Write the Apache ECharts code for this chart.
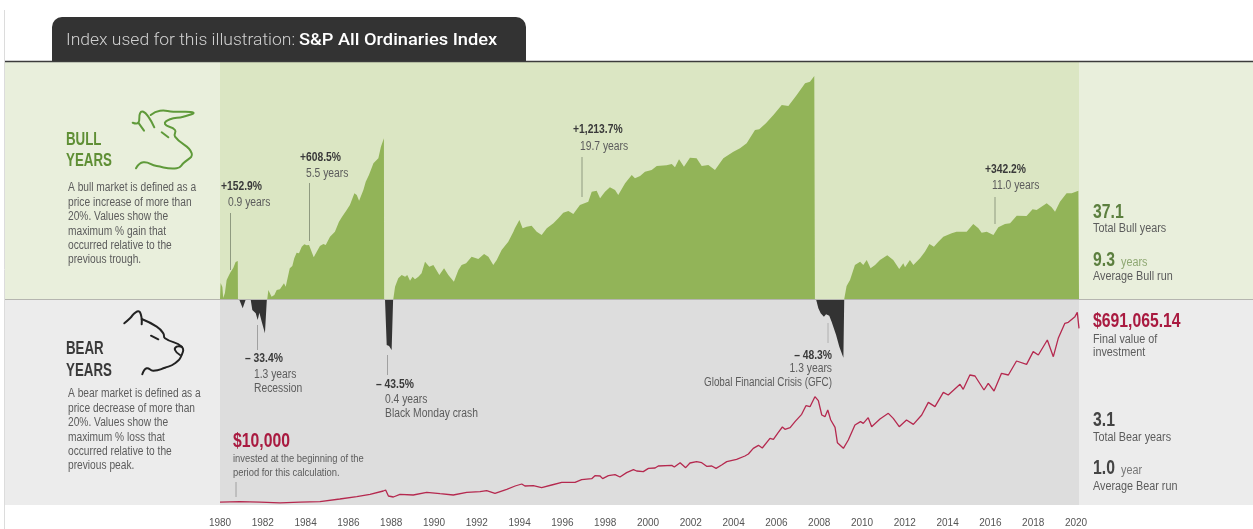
<!DOCTYPE html>
<html>
<head>
<meta charset="utf-8">
<title>Bull and bear years</title>
<script src="https://cdn.jsdelivr.net/npm/echarts@6/dist/echarts.min.js"></script>
<style>
  html, body { margin: 0; padding: 0; background: #fff; }
  #main { width: 1253px; height: 529px; filter: blur(0.4px); }
</style>
</head>
<body>
<div id="main"></div>
<script>
// x axis labels
const yearTicks = [1980,1982,1984,1986,1988,1990,1992,1994,1996,1998,2000,2002,2004,2006,2008,2010,2012,2014,2016,2018,2020];

// bull runs: [year, level above the baseline]
const bullRun1 = [[1980,0],[1980.03,16],[1980.11,12],[1980.15,1],[1980.23,6],[1980.31,19],[1980.47,26],[1980.62,31],[1980.73,37],[1980.83,38],[1980.84,0]];
const bullRun2 = [[1982.21,0],[1982.26,9],[1982.34,9],[1982.41,2.3],[1982.54,4],[1982.65,9],[1982.80,9.7],[1982.88,7.7],[1982.99,15.7],[1983.07,12.3],[1983.16,14],[1983.26,30.7],[1983.38,33],[1983.47,40.7],[1983.58,46.3],[1983.69,45.7],[1983.82,52.3],[1983.94,54.7],[1984.05,53.7],[1984.16,54],[1984.25,52.3],[1984.38,41.7],[1984.52,47.3],[1984.67,53],[1984.83,55],[1984.94,54],[1985.14,62.3],[1985.37,67.3],[1985.56,77.3],[1985.69,81.7],[1985.92,89],[1986.07,94],[1986.28,105.7],[1986.39,104],[1986.50,98.3],[1986.70,109],[1986.81,117.3],[1986.96,124],[1987.17,135.7],[1987.40,140.7],[1987.52,152.3],[1987.66,160.7],[1987.67,0]];
const bullRun3 = [[1988.10,0],[1988.18,12.3],[1988.33,20.7],[1988.49,24],[1988.65,22.3],[1988.75,24],[1988.88,18.3],[1989.00,22.3],[1989.11,19.7],[1989.27,22.3],[1989.42,25.7],[1989.58,37.3],[1989.78,32.3],[1989.97,34],[1990.25,24],[1990.47,30.7],[1990.67,24],[1990.93,17.3],[1991.14,29],[1991.29,34],[1991.50,35.7],[1991.76,42.3],[1992.07,40],[1992.34,45],[1992.54,42.3],[1992.77,34],[1992.93,39],[1993.16,49],[1993.47,57.3],[1993.71,67.3],[1993.78,70.7],[1993.99,79],[1994.14,70.7],[1994.33,72.3],[1994.56,73.3],[1994.80,67.3],[1995.03,64],[1995.27,70.7],[1995.58,75.7],[1995.81,80.7],[1996.04,86.3],[1996.28,88],[1996.51,85],[1996.82,94],[1997.21,97.3],[1997.37,107.3],[1997.60,108.3],[1997.76,100.7],[1997.99,107.3],[1998.22,111.7],[1998.46,109],[1998.61,104],[1998.93,115.7],[1999.24,124],[1999.39,120.7],[1999.63,123],[1999.86,127.3],[2000.17,129],[2000.41,133],[2000.87,133.7],[2001.11,135],[2001.26,131.7],[2001.45,139.7],[2001.68,132.3],[2001.96,141.3],[2002.27,140.7],[2002.51,133],[2002.82,134],[2003.13,129],[2003.52,140.7],[2003.99,147.3],[2004.30,150.7],[2004.61,155.7],[2005.00,169],[2005.20,169.7],[2005.51,175.7],[2005.86,184],[2006.25,194],[2006.56,193],[2006.95,204],[2007.34,215.7],[2007.57,217.3],[2007.77,223],[2007.80,0]];
const bullRun4 = [[2009.17,0],[2009.28,13],[2009.44,19],[2009.67,34],[2009.91,37.3],[2010.06,34],[2010.22,39],[2010.40,30.7],[2010.61,34],[2010.84,39],[2011.18,43.7],[2011.46,39],[2011.74,30],[2011.93,35.7],[2012.01,31.7],[2012.24,39],[2012.40,34],[2012.71,40.7],[2012.94,47.3],[2013.15,55],[2013.36,52.3],[2013.57,57.3],[2013.80,62.3],[2014.19,65.7],[2014.42,67.3],[2014.66,67.3],[2014.89,67.3],[2015.20,75],[2015.44,70.7],[2015.59,66.3],[2015.83,67.3],[2016.14,64],[2016.37,71.7],[2016.68,75],[2016.92,75.7],[2017.23,83.3],[2017.69,83],[2017.97,89.7],[2018.16,89],[2018.63,95.7],[2018.86,91.7],[2019.02,87.3],[2019.25,97.3],[2019.56,105.7],[2019.80,105.7],[2020.11,108.3],[2020.14,0]];

// bear runs: [year, depth below the baseline]
const bearRun1 = [[1980.89,0],[1981.06,9.3],[1981.21,0],[1981.43,0],[1981.51,11],[1981.67,14.3],[1981.76,21],[1981.84,13.7],[1981.95,22.7],[1982.10,34.3],[1982.18,35],[1982.19,0]];
const bearRun2 = [[1987.71,0],[1987.79,46],[1987.90,47],[1988.02,51],[1988.08,51],[1988.09,0]];
const bearRun3 = [[2007.85,0],[2007.96,9.3],[2008.07,14.3],[2008.22,17.7],[2008.32,15.3],[2008.47,16.7],[2008.58,22.7],[2008.79,36],[2008.94,47.7],[2009.13,58.7],[2009.16,58.7],[2009.17,0]];

// growth of the investment: [year, dollars]
const investment = [[1980,10000],[1980.93,12000],[1981.87,10000],[1982.80,8000],[1983.74,10000],[1984.67,12000],[1985.60,21600],[1986.39,30000],[1987.01,38500],[1987.63,50400],[1987.74,54000],[1987.87,32400],[1988.10,28800],[1988.41,38500],[1989.03,36000],[1989.66,45700],[1990.28,40700],[1990.90,36000],[1991.53,45700],[1992.15,48000],[1992.46,51600],[1992.85,42000],[1993.40,56400],[1993.79,68400],[1994.10,75600],[1994.25,68400],[1994.64,69600],[1995.03,62400],[1995.50,72000],[1995.97,81600],[1996.59,81600],[1996.90,91200],[1997.37,94800],[1997.52,105600],[1997.76,104400],[1997.88,94800],[1998.15,105600],[1998.46,109200],[1998.69,100800],[1999.00,116400],[1999.32,127200],[1999.47,122400],[1999.78,120000],[2000.02,132000],[2000.33,133200],[2000.48,140400],[2001.11,142800],[2001.23,136800],[2001.50,152400],[2001.76,134400],[2001.96,151200],[2002.27,156000],[2002.51,152400],[2002.74,139200],[2002.98,140400],[2003.18,132000],[2003.44,144000],[2003.68,156000],[2004.14,164400],[2004.53,176400],[2004.69,183600],[2004.92,204000],[2005.16,214800],[2005.34,205200],[2005.70,240000],[2005.86,236400],[2006.09,261600],[2006.28,280800],[2006.40,272400],[2006.64,278400],[2006.87,300000],[2007.18,326400],[2007.38,357600],[2007.57,354000],[2007.80,390000],[2007.96,375600],[2008.12,324000],[2008.27,318000],[2008.40,342000],[2008.54,306000],[2008.63,308400],[2008.74,279600],[2008.85,224400],[2009.13,204000],[2009.17,201600],[2009.36,234000],[2009.67,288000],[2009.93,300000],[2010.06,294000],[2010.29,314400],[2010.45,282000],[2010.84,309600],[2011.23,330000],[2011.46,312000],[2011.74,282000],[2012.08,306000],[2012.40,290400],[2012.79,324000],[2013.10,369600],[2013.41,354000],[2013.80,405600],[2014.03,396000],[2014.58,434400],[2014.73,416400],[2015.04,468000],[2015.28,464400],[2015.70,414000],[2015.90,438000],[2016.17,410400],[2016.52,474000],[2016.84,468000],[2017.22,518400],[2017.69,506400],[2018.00,552000],[2018.24,540000],[2018.66,594000],[2018.94,534000],[2019.17,600000],[2019.48,654000],[2019.64,657600],[2019.95,678000],[2020.06,693600],[2020.14,636000]];

const bullRuns = [bullRun1, bullRun2, bullRun3, bullRun4];
const bearRuns = [bearRun1, bearRun2, bearRun3];

const SANS = '"Liberation Sans", Arial, sans-serif';
const GREEN = '#92b458', GREY_TEXT = '#5c5c5c', DARK_TEXT = '#3a3a3a', RED = '#a91a40', DARK_GREEN = '#5c7f3f';

// no condensed font installed, so squeeze the text with scaleX
const txt = (x, y, text, size, color, bold, align, sx) => ({
  type: 'text', x, y, z: 20, silent: true, scaleX: sx || 0.86,
  style: {
    text, fill: color, font: (bold ? 'bold ' : '') + size + 'px ' + SANS,
    textAlign: align || 'left', textVerticalAlign: 'middle'
  }
});
const rect = (x, y, width, height, fill, r) => ({
  type: 'rect', z: 0, silent: true, shape: { x, y, width, height, r: r || 0 }, style: { fill }
});
const seg = (x1, y1, x2, y2, stroke, lineWidth, z) => ({
  type: 'line', z: z || 20, silent: true, shape: { x1, y1, x2, y2 }, style: { stroke, lineWidth: lineWidth || 1 }
});
const icon = (points, stroke) => ({
  type: 'polyline', z: 20, silent: true, shape: { points, smooth: 0.5 },
  style: { stroke, lineWidth: 2, fill: null, lineCap: 'round', lineJoin: 'round' }
});
const lines = (x, y0, step, arr, size, color, sx) => arr.map((t, i) => txt(x, y0 + i * step, t, size, color, false, 'left', sx));
const tabText = (x, text, font, fill, sx) => ({
  type: 'text', x, y: 41, z: 20, silent: true, scaleX: sx,
  style: { text, font, fill, textVerticalAlign: 'middle' }
});

const graphics = [
  // panels
  rect(5, 62, 215, 237, '#e9efdc'),
  rect(220, 62, 859, 237, '#dbe6c3'),
  rect(1079, 62, 174, 237, '#e9efdc'),
  rect(5, 299, 215, 206, '#ececec'),
  rect(220, 299, 859, 206, '#dddddd'),
  rect(1079, 299, 174, 206, '#ececec'),
  seg(4.5, 10, 4.5, 529, '#dcdcdc', 1, 1),
  seg(5, 61.5, 1253, 61.5, '#3c3c3c', 1.5, 1),
  rect(52, 17, 474, 45, '#333333', [10, 10, 0, 0]),
  seg(5, 299.5, 1253, 299.5, '#b5b5b0', 1, 10),

  // tab title
  tabText(66, 'Index used for this illustration:', '300 17px Roboto', '#d0d0d0', 1.03),
  tabText(299, 'S&P All Ordinaries Index', '500 17px Roboto', '#ffffff', 1.075),

  // bull side panel
  txt(66, 140, 'BULL', 18, '#5f8f35', true, 'left', 0.74),
  txt(66, 161, 'YEARS', 18, '#5f8f35', true, 'left', 0.74),
  ...lines(68, 188, 14.4, ['A bull market is defined as a', 'price increase of more than', '20%. Values show the', 'maximum % gain that', 'occurred relative to the', 'previous trough.'], 12, GREY_TEXT, 0.85),
  icon([[132.7,122.7],[138.3,122.7],[140,113.3],[143.3,111.7],[148.3,116.7],[154.3,127.3]], '#5f9a3a'),
  icon([[138.3,122.7],[144,130.7]], '#5f9a3a'),
  icon([[150.7,115],[160,110.7],[173.3,111.7],[193.3,112.7],[183.3,116.7],[170,119.3],[165,124],[175,130],[175,136.7],[191.7,153.3],[183.3,163.3],[176.7,168.3],[156.7,166],[143.3,162.3],[136,168.3]], '#5f9a3a'),
  icon([[161.7,132.3],[168.3,137.3]], '#5f9a3a'),

  // bear side panel
  txt(66, 349, 'BEAR', 18, DARK_TEXT, true, 'left', 0.74),
  txt(66, 371, 'YEARS', 18, DARK_TEXT, true, 'left', 0.74),
  ...lines(68, 394, 14.4, ['A bear market is defined as a', 'price decrease of more than', '20%. Values show the', 'maximum % loss that', 'occurred relative to the', 'previous peak.'], 12, GREY_TEXT, 0.85),
  icon([[124.3,323.3],[130,318.3],[135.7,312.3],[140,312.3],[141.7,324.3]], '#222'),
  icon([[141.7,319],[156.7,326.7],[163.3,333.3],[165,338.3],[181.7,346.7],[181.7,355],[175,363.3],[165,367.7],[153.3,370.7],[146.7,368.3],[142.3,374.3]], '#222'),
  icon([[181.7,346.7],[176.7,346.7],[175,350],[180,355]], '#222'),
  icon([[151,335.7],[158.3,339.3]], '#222'),

  // bull notes
  seg(230.5, 213, 230.5, 270, '#8f9a80'),
  txt(221, 187, '+152.9%', 12, DARK_TEXT, true), txt(228, 203, '0.9 years', 12, GREY_TEXT),
  seg(309.5, 183, 309.5, 241, '#8f9a80'),
  txt(300, 158, '+608.5%', 12, DARK_TEXT, true), txt(306, 174, '5.5 years', 12, GREY_TEXT),
  seg(582, 157, 582, 197, '#8f9a80'),
  txt(573, 130, '+1,213.7%', 12, DARK_TEXT, true), txt(580, 147, '19.7 years', 12, GREY_TEXT),
  seg(995, 197, 995, 224, '#8f9a80'),
  txt(985, 170, '+342.2%', 12, DARK_TEXT, true), txt(992, 186, '11.0 years', 12, GREY_TEXT),

  // bear notes
  seg(257.5, 325, 257.5, 350, '#a0a0a0'),
  txt(245, 359, '– 33.4%', 12, DARK_TEXT, true), txt(254, 375, '1.3 years', 12, GREY_TEXT), txt(254, 389, 'Recession', 12, GREY_TEXT),
  seg(387.5, 355, 387.5, 375, '#a0a0a0'),
  txt(376, 385, '– 43.5%', 12, DARK_TEXT, true), txt(385, 400, '0.4 years', 12, GREY_TEXT), txt(385, 414, 'Black Monday crash', 12, GREY_TEXT),
  seg(828, 323, 828, 343, '#b0b0b0'),
  txt(832, 356, '– 48.3%', 12, DARK_TEXT, true, 'right'), txt(832, 369, '1.3 years', 12, GREY_TEXT, false, 'right'), txt(832, 383, 'Global Financial Crisis (GFC)', 12, GREY_TEXT, false, 'right', 0.82),

  // investment notes
  txt(233, 441, '$10,000', 21, RED, true, 'left', 0.75),
  ...lines(233, 459, 14, ['invested at the beginning of the', 'period for this calculation.'], 11, GREY_TEXT, 0.855),
  seg(236, 482, 236, 497, '#a0a0a0'),

  // right column, bull
  txt(1093, 212, '37.1', 21, DARK_GREEN, true, 'left', 0.75),
  txt(1093, 229, 'Total Bull years', 12, GREY_TEXT, false, 'left', 0.9),
  txt(1093, 260, '9.3', 21, DARK_GREEN, true, 'left', 0.75),
  txt(1121, 263, 'years', 12, '#8fa873', false, 'left', 0.9),
  txt(1093, 277, 'Average Bull run', 12, GREY_TEXT, false, 'left', 0.9),

  // right column, bear
  txt(1093, 321, '$691,065.14', 21, RED, true, 'left', 0.75),
  ...lines(1093, 340, 12.5, ['Final value of', 'investment'], 12, GREY_TEXT, 0.9),
  txt(1093, 420, '3.1', 21, '#444', true, 'left', 0.75),
  txt(1093, 438, 'Total Bear years', 12, GREY_TEXT, false, 'left', 0.9),
  txt(1093, 468, '1.0', 21, '#444', true, 'left', 0.75),
  txt(1121, 471, 'year', 12, '#777', false, 'left', 0.9),
  txt(1093, 487, 'Average Bear run', 12, GREY_TEXT, false, 'left', 0.9)
];

const areaSeries = (data, xAxisIndex, yAxisIndex, color) => ({
  type: 'line', xAxisIndex, yAxisIndex, data, symbol: 'none', silent: true, z: 3,
  lineStyle: { width: 0 }, areaStyle: { color, opacity: 1 }
});

const chart = echarts.init(document.getElementById('main'), null, { renderer: 'canvas' });
chart.setOption({
  animation: false,
  backgroundColor: '#fff',
  graphic: { elements: graphics },
  grid: [
    { left: 220, top: 62, width: 859, height: 237 },
    { left: 220, top: 299, width: 859, height: 206 }
  ],
  xAxis: [
    { gridIndex: 0, type: 'value', min: 1980, max: 2020.14, show: false, splitLine: { show: false } },
    {
      gridIndex: 1, type: 'value', min: 1980, max: 2020.14,
      axisLine: { show: false }, axisTick: { show: false }, splitLine: { show: false },
      axisLabel: {
        customValues: yearTicks, margin: 13, color: '#555', fontSize: 10, fontFamily: SANS,
        alignMinLabel: 'center', alignMaxLabel: 'center', formatter: v => String(v)
      }
    }
  ],
  yAxis: [
    { gridIndex: 0, type: 'value', min: 0, max: 237, show: false, splitLine: { show: false } },
    { gridIndex: 1, type: 'value', min: 0, max: 206, inverse: true, show: false, splitLine: { show: false } },
    { gridIndex: 1, type: 'value', min: 0, max: 741600, show: false, splitLine: { show: false } }
  ],
  series: [
    ...bullRuns.map(d => areaSeries(d, 0, 0, GREEN)),
    ...bearRuns.map(d => areaSeries(d, 1, 1, '#333333')),
    {
      name: 'Value of investment', type: 'line', xAxisIndex: 1, yAxisIndex: 2, data: investment,
      symbol: 'none', silent: true, z: 4, lineStyle: { color: '#b5294f', width: 1.3 }
    }
  ]
});
</script>
</body>
</html>
